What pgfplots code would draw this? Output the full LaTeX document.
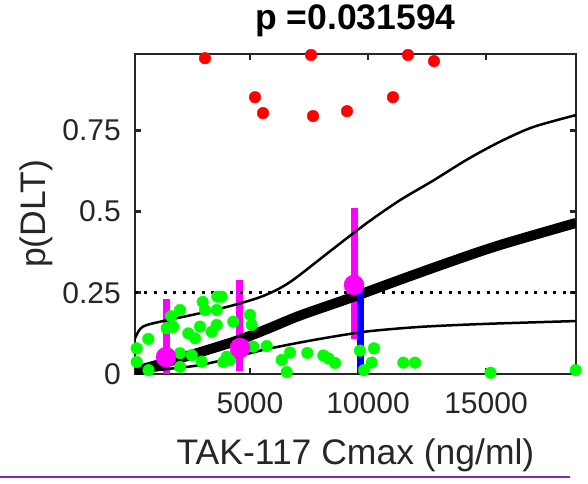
\documentclass[border=0pt]{standalone}
\usepackage{fontspec}
\setmainfont{Liberation Sans}
\usepackage{pgfplots}
\pgfplotsset{compat=1.18}
\begin{document}
\begin{tikzpicture}[x=1pt,y=1pt]
\definecolor{axgray}{gray}{0.15}
\definecolor{mgreen}{RGB}{0,255,0}
\definecolor{mred}{RGB}{255,0,0}
\definecolor{mmag}{RGB}{255,0,255}
\definecolor{mblue}{RGB}{0,0,255}
\definecolor{violetline}{RGB}{120,40,200}
\path[use as bounding box] (-135,-109) rectangle (453,374);
\begin{axis}[
  scale only axis, width=441pt, height=320pt,
  at={(0,0)}, anchor=south west,
  xmin=127, xmax=18814, ymin=0, ymax=0.985,
  scaled x ticks=false, scaled y ticks=false,
  xtick={5000,10000,15000}, xticklabels={5000,10000,15000},
  ytick={0,0.25,0.5,0.75}, yticklabels={0,0.25,0.5,0.75},
  tick align=inside, major tick length=6pt,
  axis line style={line width=2.6pt, axgray},
  every tick/.style={line width=2.6pt, axgray},
  tick label style={font=\fontsize{30}{34}\selectfont, text=axgray},
  xticklabel style={anchor=base, yshift=-39pt},
  yticklabel style={anchor=east, inner sep=0pt, xshift=-14pt},
  xlabel={TAK-117 Cmax (ng/ml)},
  xlabel style={at={(axis description cs:0.5,-0.284)}, anchor=base,
    font=\fontsize{35.5}{40}\selectfont, text=axgray},
  ylabel={p(DLT)},
  ylabel style={at={(axis description cs:-0.204,0.5)}, anchor=base, rotate=0,
    font=\fontsize{35.5}{40}\selectfont, text=axgray},
  title={p =0.031594},
  title style={at={(axis description cs:0.5,1.059)}, anchor=base,
    font=\bfseries\fontsize{35.5}{40}\selectfont},
]
% patients without DLT
\addplot[only marks, mark=*, mark size=5.8pt, mgreen, mark options={draw=mgreen, fill=mgreen}] coordinates {
(199,0.079)(691,0.108)(199,0.037)(2034,0.197)(1653,0.178)(1470,0.141)(1750,0.145)
(2386,0.125)(2669,0.110)(2881,0.146)(2996,0.222)(3093,0.197)(3614,0.238)(3801,0.238)
(3589,0.197)(3377,0.130)(3589,0.151)(2034,0.064)(2530,0.058)(2953,0.038)(4013,0.053)
(4153,0.043)(3869,0.037)(4292,0.161)(5000,0.182)(5072,0.151)(5140,0.084)(5708,0.086)
(6343,0.043)(6695,0.066)(6555,0.006)(7428,0.065)(8106,0.057)(8318,0.048)(8602,0.034)
(9661,0.072)(10254,0.079)(10157,0.035)(9831,0.012)(11496,0.035)(11992,0.035)
(15191,0.004)(18800,0.012)(2034,0.022)(700,0.012)
};
% patients with DLT
\addplot[only marks, mark=*, mark size=5.8pt, mred, mark options={draw=mred, fill=mred}] coordinates {
(3093,0.972)(5212,0.852)(5551,0.803)(7585,0.982)(7670,0.794)(9110,0.809)
(11059,0.852)(11695,0.982)(12797,0.963)
};
% binned means with intervals
\addplot[mmag, line width=7pt] coordinates {(1441,0)(1441,0.231)};
\addplot[mmag, line width=7pt] coordinates {(4576,0.010)(4576,0.289)};
\addplot[mmag, line width=7pt] coordinates {(9407,0.108)(9407,0.511)};
\addplot[only marks, mark=*, mark size=10pt, mmag, mark options={draw=mmag, fill=mmag}] coordinates {
(1441,0.052)(4576,0.080)(9407,0.274)
};
% fitted curve and confidence band
\addplot[black, line width=2.5pt, smooth] coordinates {
(42,0.089)(170,0.117)(466,0.146)(1314,0.163)(2754,0.185)(4153,0.209)(5551,0.240)
(6695,0.283)(8517,0.385)(9957,0.465)(11356,0.535)(12754,0.595)
(14195,0.660)(15593,0.715)(16991,0.760)(18814,0.797)
};
\addplot[black, line width=2.5pt, smooth] coordinates {
(127,0.003)(1314,0.014)(2754,0.026)(4153,0.048)(5551,0.074)(7119,0.097)
(8686,0.117)(10085,0.132)(12203,0.145)(14873,0.154)(18814,0.163)
};
\addplot[black, line width=10pt, smooth] coordinates {
(127,0.009)(1440,0.036)(2881,0.067)(4576,0.106)(5847,0.142)(7119,0.180)
(9364,0.237)(11356,0.290)(13474,0.345)(15593,0.397)(18814,0.465)
};
\addplot[mblue, line width=7pt] coordinates {(9703,0)(9703,0.262)};
\addplot[black, line width=3pt, dash pattern=on 3pt off 6.5pt] coordinates {(127,0.25)(18814,0.25)};
\end{axis}
\draw[violetline, line width=2pt] (-135,-103) -- (435,-103);
\end{tikzpicture}
\end{document}
